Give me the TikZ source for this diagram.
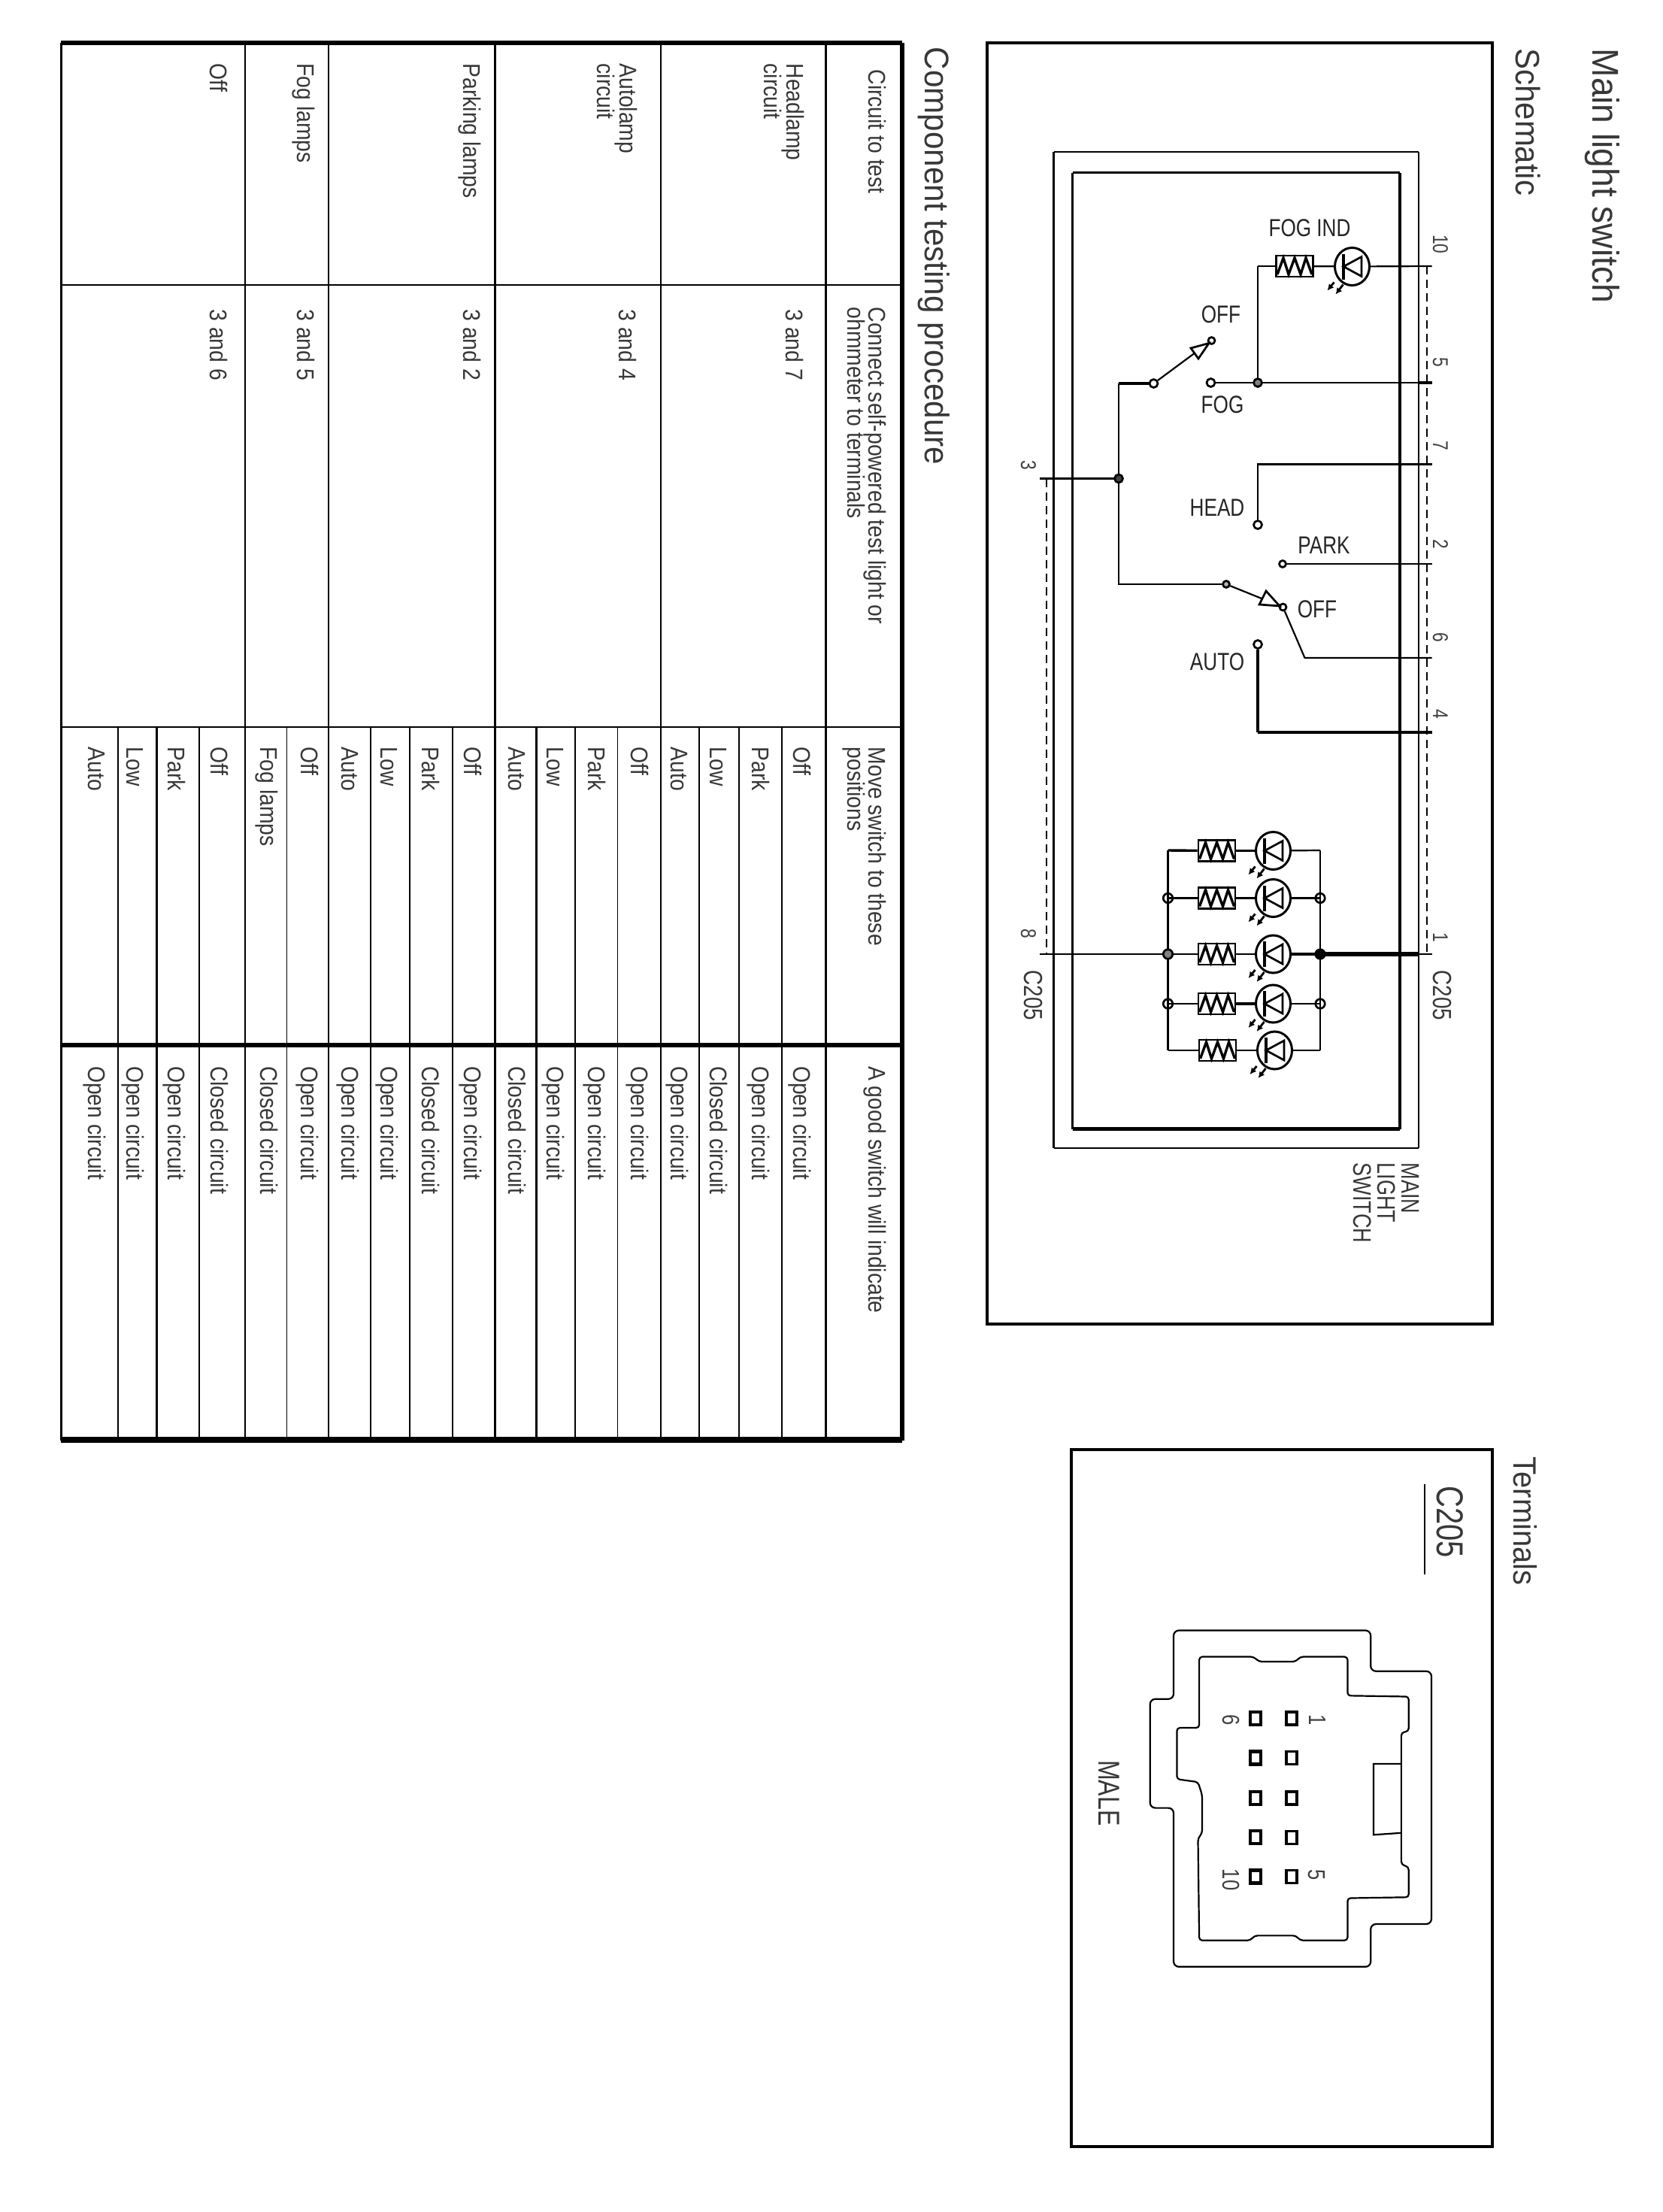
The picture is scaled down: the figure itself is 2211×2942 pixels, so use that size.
\documentclass[tikz,border=0pt]{standalone}
\usepackage{fontspec}
\setmainfont{Liberation Sans}
\newfontfamily\narrowf[FakeStretch=0.8]{Liberation Sans}
\newfontfamily\tabf[FakeStretch=0.88]{Liberation Sans}
\newfontfamily\titlef[FakeStretch=0.93]{Liberation Sans}
\usetikzlibrary{arrows.meta,shapes.geometric}
\tikzset{
  x=0.01cm,y=-0.01cm,
  wa/.style={line width=0.015cm},
  wb/.style={line width=0.022cm},
  wc/.style={line width=0.027cm},
  wd/.style={line width=0.034cm},
  we/.style={line width=0.042cm},
  wf/.style={line width=0.055cm},
  wg/.style={line width=0.08cm},
  rt/.style={rotate=-90,anchor=base west,inner sep=0pt,text=black!78},
  rc/.style={rotate=-90,anchor=base,inner sep=0pt,text=black!75},
  hl/.style={anchor=center,inner sep=0pt,text=black!85,font=\narrowf\fontsize{9.3}{10}\selectfont},
  tabtxt/.style={rt,font=\tabf\fontsize{9.14}{10}\selectfont},
  pinlab/.style={rc,font=\narrowf\fontsize{8.1}{9}\selectfont},
  smalllab/.style={rt,font=\narrowf\fontsize{9.9}{11}\selectfont},
  contact/.style={circle,draw,wc,fill=white,inner sep=0pt,minimum size=0.11cm},
  junction/.style={circle,draw,wc,inner sep=0pt,minimum size=0.125cm},
  solidj/.style={circle,draw,wc,fill=black!75,inner sep=0pt,minimum size=0.11cm},
  resbox/.style={rectangle,draw,wc,fill=white,inner sep=0pt,minimum width=0.49cm,minimum height=0.28cm},
  lampc/.style={ellipse,draw,line width=0.03cm,inner sep=0pt,minimum width=0.46cm,minimum height=0.5cm},
  ray/.style={line width=0.028cm,-{Latex[length=0.085cm,width=0.085cm]}},
  pinsq/.style={rectangle,draw,we,inner sep=0pt,minimum width=0.14cm,minimum height=0.17cm},
  swarrow/.style={draw,wc,fill=white},
}
% resistor: name, centre x, centre y
\newcommand{\resistorsym}[3]{%
  \node[resbox] (#1) at (#2,#3) {};
  \draw[wd] (#2-23,#3+11) -- (#2-15,#3-11) -- (#2-8,#3+11) -- (#2,#3-11) -- (#2+8,#3+11) -- (#2+15,#3-11) -- (#2+23,#3+11);
}
% lamp: name, centre x, centre y
\newcommand{\lampsym}[3]{%
  \node[lampc] (#1) at (#2,#3) {};
  \draw[wd] (#2-11.5,#3-17) -- (#2-11.5,#3+17);
  \draw[wc] (#2-11.5,#3) -- (#2+12.5,#3-13) -- (#2+12.5,#3+13) -- cycle;
  \draw[ray] (#2-24,#3+21) -- (#2-33,#3+32);
  \draw[ray] (#2-12,#3+24) -- (#2-22,#3+37);
}
\begin{document}
\begin{tikzpicture}
\useasboundingbox[fill=white] (0,0) rectangle (2211,2942);

%% titles
\node[rt,font=\titlef\fontsize{14.1}{15}\selectfont] (tmain) at (2118,64) {Main light switch};
\node[rt,font=\titlef\fontsize{12.8}{14}\selectfont] (tschem) at (2016,64) {Schematic};
\node[rt,font=\titlef\fontsize{12.9}{14}\selectfont] (tcomp) at (1230,62) {Component testing procedure};
\node[rt,font=\titlef\fontsize{12.2}{14}\selectfont] (tterm) at (2013,1937) {Terminals};

%% frames
\draw[we] (1313,57) rectangle (1985,1761);
\draw[we] (1425,1928) rectangle (1985,2855);

%% switch boxes
\coordinate (oa) at (1401.5,202); \coordinate (ob) at (1887,202);
\coordinate (oc) at (1887,1527); \coordinate (od) at (1401.5,1527);
\coordinate (ia) at (1426.5,229.5); \coordinate (ib) at (1862,229.5);
\coordinate (ic) at (1862,1501.5); \coordinate (id) at (1426.5,1501.5);
\draw[wc] (oa) -- (ob);
\draw[wb] (ob) -- (oc);
\draw[wc] (oc) -- (od);
\draw[wd] (od) -- (oa);
\draw[wc] (ia) -- (ib);
\draw[wd] (ib) -- (ic);
\draw[wf] (ic) -- (id);
\draw[wb] (id) -- (ia);

%% dashed connector bars
\coordinate (dra) at (1898,354); \coordinate (drb) at (1898,1269);
\coordinate (dla) at (1392,636.5); \coordinate (dlb) at (1392,1269);
\draw[wa,dashed,dash pattern=on 0.11cm off 0.07cm] (dra) -- (drb);
\draw[wa,dashed,dash pattern=on 0.11cm off 0.07cm] (dla) -- (dlb);

%% pin ends
\coordinate (p10) at (1904.6,354);
\coordinate (p5) at (1904.6,509);
\coordinate (p5t) at (1887,509);
\coordinate (p7) at (1904.6,617.5);
\coordinate (p2) at (1904.6,750);
\coordinate (p6) at (1904.6,875);
\coordinate (p4) at (1904.6,974);
\coordinate (p1) at (1904.6,1269);
\coordinate (p3) at (1383,636.5);
\coordinate (p8) at (1383,1269);

%% pin labels
\node[pinlab] (l10) at (1906,325) {10};
\node[pinlab] (l5) at (1906,481.5) {5};
\node[pinlab] (l7) at (1906,593) {7};
\node[pinlab] (l2) at (1906,724) {2};
\node[pinlab] (l6) at (1906,848) {6};
\node[pinlab] (l4) at (1906,950) {4};
\node[pinlab] (l1) at (1906,1247) {1};
\node[pinlab] (l3) at (1358,619) {3};
\node[pinlab] (l8) at (1358,1241.5) {8};
\node[smalllab] (lcr) at (1906,1290) {C205};
\node[smalllab] (lcl) at (1362,1290) {C205};

%% schematic labels
\node[hl] (nfogind) at (1742,303) {FOG IND};
\node[hl] (noff1) at (1624,418) {OFF};
\node[hl] (nfog) at (1626,538) {FOG};
\node[hl] (nhead) at (1619,675) {HEAD};
\node[hl] (npark) at (1761,725) {PARK};
\node[hl] (noff2) at (1752,810) {OFF};
\node[hl] (nauto) at (1619,880) {AUTO};
\node[rt,font=\narrowf\fontsize{9.6}{10}\selectfont] (nmain) at (1864,1546) {MAIN};
\node[rt,font=\narrowf\fontsize{9.6}{10}\selectfont] (nlight) at (1832,1546) {LIGHT};
\node[rt,font=\narrowf\fontsize{9.6}{10}\selectfont] (nswitch) at (1800,1546) {SWITCH};

%% fog section
\coordinate (b5) at (1488,510);
\coordinate (b3) at (1488,636.5);
\coordinate (b2) at (1488,777);
\coordinate (f1) at (1673,354);
\coordinate (h1) at (1673,617.5);
\coordinate (a1) at (1673,974);
\coordinate (o6) at (1735.5,875);
\node[contact] (cfog) at (1610.5,509) {};
\node[contact,minimum size=0.09cm] (coff1) at (1611.5,453) {};
\node[contact] (piv1) at (1534.5,510) {};
\node[contact] (chead) at (1673,698) {};
\node[contact,minimum size=0.09cm] (cpark) at (1706,750) {};
\node[contact,minimum size=0.09cm,fill=black!30] (piv2) at (1631,777) {};
\node[contact,minimum size=0.09cm] (coff2) at (1706.5,807.5) {};
\node[contact] (cauto) at (1673,857) {};
\resistorsym{rf}{1722}{354}
\lampsym{lf}{1798.5}{354.5}
\draw[wb] (f1) -- (rf);
\draw[wb] (rf) -- (lf);
\draw[wb] (lf) -- (p10);
\draw[wc] (f1) -- (1673,509);
\draw[wb] (cfog) -- (p5);
\draw[wd] (p5t) -- (p5);
\node[junction,minimum size=0.11cm,fill=black!50] (j5) at (1673,509) {};
\draw[wb] (b3) -- (b5);
\draw[wd] (b5) -- (piv1);
\draw[wb] (piv1) -- (coff1);
\draw[swarrow] (1584,463) -- (1608,456.5) -- (1594,477) -- cycle;
\draw[wb] (p3) -- (b3);
\draw[wb] (b3) -- (b2) -- (piv2);
\node[solidj] (j3) at (b3) {};
\draw[wb] (piv2) -- (coff2);
\draw[swarrow] (1684,786) -- (1702,806) -- (1675,804) -- cycle;
\draw[wb] (p7) -- (h1) -- (chead);
\draw[wb] (cpark) -- (p2);
\draw[wb] (coff2) -- (o6) -- (p6);
\draw[wd] (cauto) -- (a1);
\draw[wd] (a1) -- (p4);

%% lamps
\coordinate (bla) at (1553.5,1131); \coordinate (blb) at (1553.5,1397);
\coordinate (bra) at (1756,1131); \coordinate (brb) at (1756,1397);
\draw[wc] (bla) -- (blb);
\draw[wc] (bra) -- (brb);
\resistorsym{ra}{1618.5}{1131.5}
\resistorsym{rb}{1618.5}{1194.5}
\resistorsym{rc}{1618.5}{1269}
\resistorsym{rd}{1618.5}{1335}
\resistorsym{re}{1619.5}{1397}
\lampsym{la}{1693.5}{1131.5}
\lampsym{lb}{1693.5}{1194.5}
\lampsym{lc}{1693.5}{1269}
\lampsym{ld}{1693.5}{1335}
\lampsym{le}{1695.5}{1397}
% row wires
\draw[wd] (bla) -- (ra);
\draw[wd] (ra) -- (la);
\draw[wb] (la) -- (bra);
\coordinate (jl2) at (1553.5,1194.5); \coordinate (jr2) at (1756,1194.5);
\coordinate (jl3) at (1553.5,1269); \coordinate (jr3) at (1756,1269);
\coordinate (jl4) at (1553.5,1335); \coordinate (jr4) at (1756,1335);
\draw[wd] (jl2) -- (rb);
\draw[wd] (rb) -- (lb);
\draw[wb] (lb) -- (jr2);
\draw[wb] (p8) -- (jl3);
\draw[wb] (jl3) -- (rc);
\draw[wb] (rc) -- (lc);
\draw[wd] (lc) -- (jr3);
\draw[wf] (jr3) -- (1887,1269);
\draw[wa] (1887,1269) -- (p1);
\draw[wb] (jl4) -- (rd);
\draw[wd] (rd) -- (ld);
\draw[wb] (ld) -- (jr4);
\draw[wb] (blb) -- (re);
\draw[wb] (re) -- (le);
\draw[wb] (le) -- (brb);
\node[junction] (jla) at (jl2) {};
\node[junction] (jra) at (jr2) {};
\node[junction,fill=black!50] (jlb) at (jl3) {};
\node[solidj,minimum size=0.125cm,fill=black] (jrb) at (jr3) {};
\node[junction] (jlc) at (jl4) {};
\node[junction] (jrc) at (jr4) {};

%% table lines
\draw[wf] (81.4,57) -- (1200,57);
\draw[wd] (81.4,57) -- (81.4,1916);
\draw[line width=0.065cm] (1200,57) -- (1200,1916);
\draw[wg] (81.4,1915) -- (1200,1915);
\draw[wc] (81.4,379) -- (1200,379);
\draw[wc] (81.4,967) -- (1200,967);
\draw[wf] (81.4,1390) -- (1200,1390);
\foreach \x/\w in {326/0.015,437/0.015,658/0.03,879/0.015,1098.5/0.03}
  \draw[line width=\w cm] (\x,57) -- (\x,1916);
\foreach \x/\w in {157/0.024,208.5/0.024,265/0.02,381.4/0.015,493/0.024,545/0.024,602/0.015,713.6/0.024,765/0.017,821.5/0.015,930/0.024,983/0.024,1040/0.02}
  \draw[line width=\w cm] (\x,967) -- (\x,1916);

%% table text
\foreach \bx/\by/\txt [count=\i] in {
  1155/92/Circuit to test,
  1155/408/Connect self-powered test light or,
  1127/408/ohmmeter to terminals,
  1155/993/Move switch to these,
  1127/993/positions,
  1155/1417.5/A good switch will indicate,
  1046/84/Headlamp,
  1016/84/circuit,
  1045/411/3 and 7,
  824/84/Autolamp,
  794/84/circuit,
  823/411/3 and 4,
  616/84/Parking lamps,
  616/411/3 and 2,
  395/84/Fog lamps,
  395/411/3 and 5,
  279/84/Off,
  279/411/3 and 6,
  1055/993/Off,
  1000/993/Park,
  944/993/Low,
  892.5/993/Auto,
  839/993/Off,
  782/993/Park,
  727/993/Low,
  676/993/Auto,
  617/993/Off,
  561/993/Park,
  506/993/Low,
  454/993/Auto,
  400.5/993/Off,
  346/993/Fog lamps,
  280/993/Off,
  223/993/Park,
  168.5/993/Low,
  117.5/993/Auto,
  1055/1417.5/Open circuit,
  1000/1417.5/Open circuit,
  944/1417.5/Closed circuit,
  892.5/1417.5/Open circuit,
  839/1417.5/Open circuit,
  782/1417.5/Open circuit,
  727/1417.5/Open circuit,
  676/1417.5/Closed circuit,
  617/1417.5/Open circuit,
  561/1417.5/Closed circuit,
  506/1417.5/Open circuit,
  454/1417.5/Open circuit,
  400.5/1417.5/Open circuit,
  346/1417.5/Closed circuit,
  280/1417.5/Closed circuit,
  223/1417.5/Open circuit,
  168.5/1417.5/Open circuit,
  117.5/1417.5/Open circuit}
  \node[tabtxt] (tc\i) at (\bx,\by) {\txt};

%% connector view
\node[rt,font=\narrowf\fontsize{14.2}{15}\selectfont] (cname) at (1911,1976) {C205};
\coordinate (ula) at (1894.7,1974); \coordinate (ulb) at (1894.7,2094);
\draw[wb] (ula) -- (ulb);
\node[rt,font=\narrowf\fontsize{11.4}{12}\selectfont] (cmale) at (1461.5,2340.5) {MALE};
\node[rc,font=\narrowf\fontsize{9.1}{10}\selectfont] (cp1) at (1741,2288) {1};
\node[rc,font=\narrowf\fontsize{9.1}{10}\selectfont] (cp5) at (1740,2494) {5};
\node[rc,font=\narrowf\fontsize{9.1}{10}\selectfont] (cp6) at (1626,2288) {6};
\node[rc,font=\narrowf\fontsize{9.1}{10}\selectfont] (cp10) at (1626,2500) {10};
\foreach \py [count=\i] in {2285.6,2338,2391.5,2443.8,2496} {
  \node[pinsq] (sa\i) at (1669.6,\py) {};
  \node[pinsq,wd] (sb\i) at (1718,\py) {};
}
\begin{scope}[shift={(1350,1880)},x=0.005491cm,y=-0.006378cm]
  \draw[wb,rounded corners=0.07cm] (384,452) -- (861,452) -- (861,537) -- (1008,537) -- (1008,1064) -- (861,1064) -- (861,1153) -- (384,1153) -- (384,822) -- (327,822) -- (327,595) -- (384,595) -- cycle;
  \draw[wb,rounded corners=0.04cm] (446,507) -- (578,507) -- (590,517) -- (680,517) -- (690,507) -- (805,507) -- (805,588) -- (953,590) -- (953,662) -- (935,665) -- (935,940) -- (953,945) -- (953,1008) -- (805,1010) -- (805,1098) -- (690,1098) -- (680,1088) -- (580,1088) -- (570,1098) -- (446,1098) -- (443,885) -- (453,875) -- (453,795) -- (443,768) -- (392,762) -- (392,655) -- (446,655) -- cycle;
  \draw[wb] (935,730) -- (868,730) -- (868,878) -- (935,874);
\end{scope}
\end{tikzpicture}
\end{document}
